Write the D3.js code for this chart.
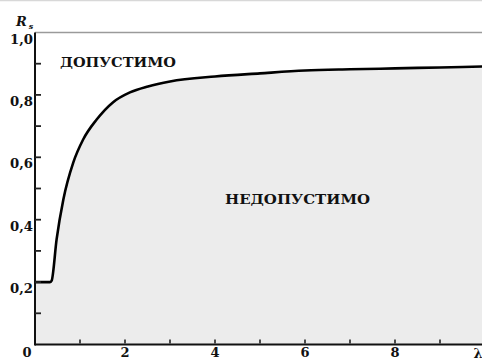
<!DOCTYPE html>
<html>
<head>
<meta charset="utf-8">
<script src="https://d3js.org/d3.v7.min.js"></script>
<style>
  html, body { margin: 0; padding: 0; background: #fff; }
  svg { display: block; }
  svg text { font-family: "DejaVu Serif", "Liberation Serif", serif; font-weight: 700; fill: #111; }
</style>
</head>
<body>
<script>
// Boundary curve R_s(λ)
const lambda = [0, 0.33, 0.37, 0.48, 0.63, 0.85, 1.07, 1.37, 1.73, 2.11, 2.51, 3, 4, 5, 6, 7, 8, 9, 10];
const rs     = [0.2, 0.2, 0.205, 0.337, 0.465, 0.583, 0.657, 0.721, 0.776, 0.808, 0.827, 0.843, 0.859, 0.869, 0.878, 0.882, 0.885, 0.888, 0.891];

const xTickVals = [1, 2, 3, 4, 5, 6, 7, 8, 9];
const xTickLabels = ["2", "4", "6", "8"];
const yTickVals = [0.1, 0.2, 0.3, 0.4, 0.5, 0.6, 0.7, 0.8, 0.9];
const yTickLabels = ["0,2", "0,4", "0,6", "0,8", "1,0"];
const regionLabels = ["ДОПУСТИМО", "НЕДОПУСТИМО"];

const W = 482, H = 361;
const svg = d3.select("body").append("svg").attr("width", W).attr("height", H);

const x = d3.scaleLinear().domain([0, 10]).range([35, 485]);
const y = d3.scaleLinear().domain([0, 1]).range([344.5, 32.5]);

// thin rule along the top edge
svg.append("line").attr("x1", 0).attr("x2", W).attr("y1", 0.5).attr("y2", 0.5)
  .attr("stroke", "#d8d8d8").attr("stroke-width", 1.5);

// inadmissible region under the curve
const area = d3.area().x((d, i) => x(lambda[i])).y0(y(0)).y1((d) => y(d)).curve(d3.curveMonotoneX);
svg.append("path").datum(rs).attr("d", area).attr("fill", "#ececec");

// frame line at R = 1
svg.append("line").attr("x1", x(0)).attr("x2", W).attr("y1", y(1)).attr("y2", y(1))
  .attr("stroke", "#9a9a9a").attr("stroke-width", 1.5);

// boundary curve
const line = d3.line().x((d, i) => x(lambda[i])).y((d) => y(d)).curve(d3.curveMonotoneX);
svg.append("path").datum(rs).attr("d", line).attr("fill", "none")
  .attr("stroke", "#000").attr("stroke-width", 2.6).attr("stroke-linejoin", "round");

// axes
svg.append("line").attr("x1", x(0)).attr("x2", W).attr("y1", y(0)).attr("y2", y(0))
  .attr("stroke", "#111").attr("stroke-width", 2);
svg.append("line").attr("x1", x(0)).attr("x2", x(0)).attr("y1", y(0) + 1).attr("y2", y(1))
  .attr("stroke", "#111").attr("stroke-width", 2);

// inward ticks
svg.selectAll(".xt").data(xTickVals).enter().append("line")
  .attr("x1", (d) => x(d)).attr("x2", (d) => x(d))
  .attr("y1", y(0) - 1).attr("y2", y(0) - 5)
  .attr("stroke", "#222").attr("stroke-width", 1.6);
svg.selectAll(".yt").data(yTickVals).enter().append("line")
  .attr("x1", x(0)).attr("x2", x(0) + 6)
  .attr("y1", (d) => y(d)).attr("y2", (d) => y(d))
  .attr("stroke", "#222").attr("stroke-width", 1.8);

// x labels
svg.selectAll(".xl").data(xTickLabels).enter().append("text")
  .attr("x", (d) => x(+d)).attr("y", 357)
  .attr("text-anchor", "middle").style("font-size", "13px").text((d) => d);
svg.append("text").attr("x", 27).attr("y", 357).attr("text-anchor", "middle")
  .style("font-size", "13px").text("0");
svg.append("text").attr("x", 478).attr("y", 358).attr("text-anchor", "middle")
  .style("font-size", "13px").text("λ");

// y labels
svg.selectAll(".yl").data(yTickLabels).enter().append("text")
  .attr("x", 33).attr("y", (d) => y(parseFloat(d.replace(",", "."))) + 11)
  .attr("text-anchor", "end").style("font-size", "13px")
  .attr("textLength", 23).attr("lengthAdjust", "spacingAndGlyphs").text((d) => d);

// y axis title
const title = svg.append("text").attr("x", 16).attr("y", 26).style("font-size", "13px").style("font-style", "italic");
title.append("tspan").text("R");
title.append("tspan").style("font-size", "8px").attr("dx", 2).attr("dy", 3).text("s");

// region labels
svg.append("text").attr("x", 60).attr("y", 67).style("font-size", "13px")
  .attr("textLength", 116).attr("lengthAdjust", "spacingAndGlyphs").text(regionLabels[0]);
svg.append("text").attr("x", 225).attr("y", 204).style("font-size", "13px")
  .attr("textLength", 145).attr("lengthAdjust", "spacingAndGlyphs").text(regionLabels[1]);
</script>
</body>
</html>
